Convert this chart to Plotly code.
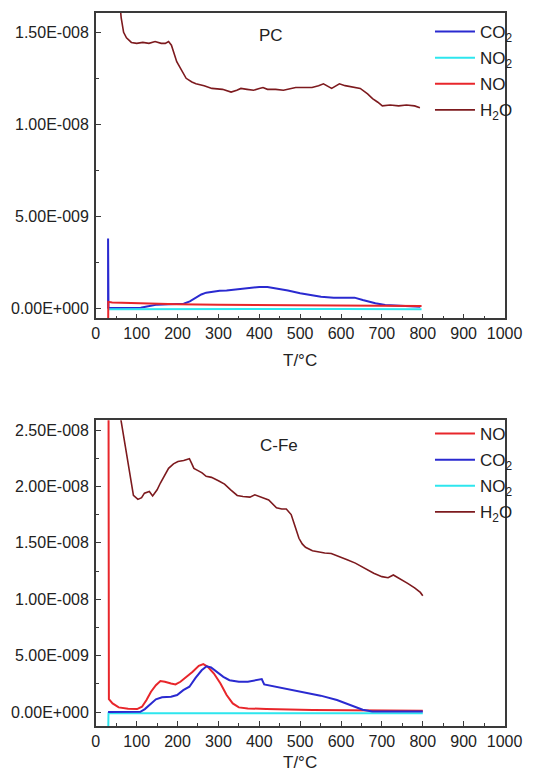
import plotly.graph_objects as go

# ---------------- PC panel (top) ----------------
pc_co2_T = [30, 30, 31, 50, 80, 110, 125, 140, 150, 180, 215, 230, 245, 258, 270, 285, 303, 320, 343, 370,
            400, 420, 441, 470, 500, 530, 551, 582, 610, 633, 653, 670, 684, 708, 735, 755, 780, 794]
pc_co2 = [0.0, 3.8, 0.02, 0.02, 0.02, 0.03, 0.1, 0.18, 0.2, 0.22, 0.25, 0.38, 0.6, 0.75, 0.85, 0.9, 0.95, 0.97, 1.02, 1.08,
          1.16, 1.16, 1.09, 0.97, 0.82, 0.7, 0.63, 0.58, 0.58, 0.58, 0.45, 0.35, 0.27, 0.18, 0.15, 0.13, 0.1, 0.09]

pc_no2_T = [30, 200, 400, 600, 797]
pc_no2 = [-0.05, -0.04, -0.04, -0.04, -0.05]

pc_no_T = [30, 30.5, 40, 100, 200, 300, 400, 500, 600, 700, 797]
pc_no = [-2.0, 0.35, 0.32, 0.27, 0.22, 0.2, 0.18, 0.16, 0.15, 0.13, 0.12]

pc_h2o_T = [30, 55, 62, 68, 75, 87, 100, 115, 130, 145, 160, 170, 178, 185, 198, 210, 221, 235, 245, 265,
            284, 310, 331, 345, 355, 370, 386, 400, 409, 420, 440, 459, 475, 489, 510, 529, 545, 557, 577, 596,
            610, 623, 647, 665, 677, 690, 701, 720, 741, 760, 780, 793]
pc_h2o = [26.0, 17.5, 15.8, 15.0, 14.7, 14.45, 14.4, 14.45, 14.4, 14.5, 14.4, 14.4, 14.5, 14.3, 13.4, 12.9, 12.5, 12.3, 12.2, 12.1,
          11.95, 11.9, 11.75, 11.85, 11.95, 11.9, 11.85, 11.95, 12.0, 11.9, 11.9, 11.85, 11.95, 12.0, 12.0, 12.0, 12.1, 12.2, 11.95, 12.2,
          12.1, 12.05, 11.95, 11.65, 11.4, 11.2, 11.0, 11.05, 11.0, 11.05, 11.0, 10.9]

# ---------------- C-Fe panel (bottom) ----------------
fe_no_T = [30, 32, 41, 56, 79, 101, 113, 124, 135, 147, 158, 169, 184, 195, 207, 222, 229, 237, 252, 263,
           274, 289, 305, 320, 335, 350, 372, 417, 530, 650, 750, 800]
fe_no = [60.0, 1.15, 0.76, 0.41, 0.28, 0.26, 0.47, 1.06, 1.8, 2.38, 2.74, 2.68, 2.53, 2.44, 2.68, 3.12, 3.26, 3.56, 4.09, 4.25,
         4.0, 3.41, 2.53, 1.5, 0.76, 0.41, 0.32, 0.26, 0.18, 0.14, 0.12, 0.1]

fe_co2_T = [30, 60, 109, 120, 132, 147, 162, 184, 199, 214, 229, 244, 259, 271, 282, 297, 312, 327, 350, 372,
            398, 406, 412, 433, 480, 520, 550, 590, 621, 653, 676, 700, 750, 800]
fe_co2 = [0.0, 0.02, 0.02, 0.26, 0.68, 1.12, 1.3, 1.35, 1.5, 1.94, 2.24, 3.03, 3.7, 4.05, 3.95, 3.56, 3.12, 2.82, 2.68, 2.68,
          2.82, 2.92, 2.45, 2.3, 1.98, 1.7, 1.45, 1.06, 0.62, 0.2, 0.05, 0.04, 0.05, 0.05]

fe_no2_T = [30, 31, 200, 400, 600, 800]
fe_no2 = [-3.0, -0.1, -0.1, -0.1, -0.12, -0.12]

fe_h2o_T = [30, 55, 61, 72, 84, 92, 103, 112, 119, 131, 139, 150, 158, 168, 178, 190, 201, 215, 229, 235,
            240, 250, 260, 270, 283, 300, 315, 330, 346, 360, 377, 389, 400, 411, 423, 442, 455, 466, 478, 488,
            497, 505, 513, 530, 544, 560, 576, 595, 615, 635, 654, 680, 700, 715, 728, 745, 763, 780, 794, 800]
fe_h2o = [40.0, 28.5, 26.0, 23.6, 20.7, 19.2, 18.85, 19.0, 19.4, 19.55, 19.15, 19.7, 20.3, 21.0, 21.6, 22.0, 22.2, 22.3, 22.45, 22.0,
          21.6, 21.4, 21.2, 20.9, 20.8, 20.5, 20.2, 19.7, 19.2, 19.1, 19.05, 19.25, 19.1, 18.9, 18.8, 18.1, 18.0, 18.0, 17.5, 16.4,
          15.4, 14.9, 14.6, 14.3, 14.2, 14.1, 14.05, 13.8, 13.5, 13.2, 12.8, 12.3, 12.0, 11.9, 12.15, 11.8, 11.4, 11.0, 10.6, 10.3]

SCALE = 1e-9
x_ticks = list(range(0, 1001, 100))
pc_y_ticks = [0, 5e-9, 1e-8, 1.5e-8]
pc_y_text = ["0.00E+000", "5.00E-009", "1.00E-008", "1.50E-008"]
fe_y_ticks = [0, 5e-9, 1e-8, 1.5e-8, 2e-8, 2.5e-8]
fe_y_text = ["0.00E+000", "5.00E-009", "1.00E-008", "1.50E-008", "2.00E-008", "2.50E-008"]

C_CO2 = "#2a2ad0"
C_NO2 = "#2ee6ee"
C_NO = "#e8262b"
C_H2O = "#7d1a1e"

FONT = "Liberation Sans, Arial, sans-serif"

def sc(v):
    return [a * SCALE for a in v]

fig = go.Figure()

def add(T, v, name, color, width, xa, ya, legend, grp):
    fig.add_trace(go.Scatter(x=T, y=sc(v), mode="lines", name=name,
                             line=dict(color=color, width=width),
                             xaxis=xa, yaxis=ya, legend=legend, legendgroup=grp,
                             cliponaxis=True))

# top
add(pc_co2_T, pc_co2, "CO<sub>2</sub>", C_CO2, 2, "x", "y", "legend", "a1")
add(pc_no2_T, pc_no2, "NO<sub>2</sub>", C_NO2, 2, "x", "y", "legend", "a2")
add(pc_no_T, pc_no, "NO", C_NO, 2, "x", "y", "legend", "a3")
add(pc_h2o_T, pc_h2o, "H<sub>2</sub>O", C_H2O, 1.6, "x", "y", "legend", "a4")
# bottom
add(fe_no2_T, fe_no2, "NO<sub>2</sub>", C_NO2, 2, "x2", "y2", "legend2", "b3")
add(fe_no_T, fe_no, "NO", C_NO, 2, "x2", "y2", "legend2", "b1")
add(fe_co2_T, fe_co2, "CO<sub>2</sub>", C_CO2, 2, "x2", "y2", "legend2", "b2")
add(fe_h2o_T, fe_h2o, "H<sub>2</sub>O", C_H2O, 1.6, "x2", "y2", "legend2", "b4")

ranks = {"b1": 1, "b2": 2, "b3": 3, "b4": 4, "a1": 1, "a2": 2, "a3": 3, "a4": 4}
for tr in fig.data:
    tr.legendrank = ranks[tr.legendgroup]

W, H = 542, 772
xl, xr = 95.7 / W, 521.7 / W
top_dom = [1 - 318.3 / H, 1 - 12.7 / H]
bot_dom = [1 - 726 / H, 1 - 420.3 / H]

axis_common = dict(showline=True, linecolor="#3a3a3a", linewidth=1.5, mirror=True,
                   ticks="inside", ticklen=5, tickwidth=1.2, tickcolor="#3a3a3a",
                   showgrid=False, zeroline=False,
                   tickfont=dict(family=FONT, size=16, color="#222"))

xcommon = dict(axis_common, range=[0, 1000], tickvals=x_ticks, ticktext=[str(t) for t in x_ticks],
               minor=dict(ticks="inside", ticklen=3, tickcolor="#3a3a3a", dtick=50, showgrid=False),
               domain=[xl, xr], ticklabelstandoff=0)

fig.update_layout(
    width=W, height=H,
    margin=dict(l=0, r=0, t=0, b=0),
    paper_bgcolor="white", plot_bgcolor="white",
    font=dict(family=FONT, color="#222"),
    xaxis=dict(xcommon, anchor="y"),
    yaxis=dict(axis_common, domain=top_dom, anchor="x", range=[-0.543e-9, 1.6065e-8],
               tickvals=pc_y_ticks, ticktext=pc_y_text,
               minor=dict(ticks="inside", ticklen=3, tickcolor="#3a3a3a", dtick=2.5e-9, showgrid=False),
               ticklabelstandoff=2),
    xaxis2=dict(xcommon, anchor="y2"),
    yaxis2=dict(axis_common, domain=bot_dom, anchor="x2", range=[-1.241e-9, 2.586e-8],
                tickvals=fe_y_ticks, ticktext=fe_y_text,
                minor=dict(ticks="inside", ticklen=3, tickcolor="#3a3a3a", dtick=2.5e-9, showgrid=False),
                ticklabelstandoff=2),
    legend=dict(x=444 / W, y=1 - 14 / H, xanchor="left", yanchor="top", bgcolor="rgba(0,0,0,0)",
                font=dict(family=FONT, size=17, color="#222"), tracegroupgap=1, itemwidth=40),
    legend2=dict(x=444 / W, y=1 - 416 / H, xanchor="left", yanchor="top", bgcolor="rgba(0,0,0,0)",
                 font=dict(family=FONT, size=17, color="#222"), tracegroupgap=1, itemwidth=40),
    showlegend=True,
)

annos = [
    dict(text="PC", x=278 / W, y=1 - 35 / H),
    dict(text="C-Fe", x=287 / W, y=1 - 445 / H),
    dict(text="T/\u00b0C", x=(xl + xr) / 2, y=1 - 360 / H),
    dict(text="T/\u00b0C", x=(xl + xr) / 2, y=1 - 762 / H),
]
for a in annos:
    fig.add_annotation(xref="paper", yref="paper", x=a["x"], y=a["y"], text=a["text"], showarrow=False,
                       xanchor="center", yanchor="middle", font=dict(family=FONT, size=17, color="#222"))

fig.write_html("out.html")
